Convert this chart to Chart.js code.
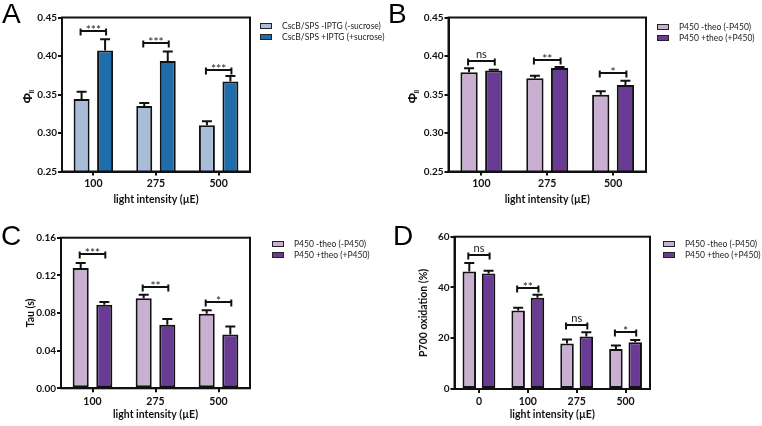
<!DOCTYPE html>
<html>
<head>
<meta charset="utf-8">
<script src="https://cdn.jsdelivr.net/npm/chart.js@4.4.1/dist/chart.umd.min.js"></script>
<style>
  body { margin: 0; background: #fff; }
  #wrap { position: relative; width: 762px; height: 426px; background: #fff; overflow: hidden; }
  canvas { position: absolute; }
  .letter { position: absolute; font: 28px "Liberation Sans", Arial, sans-serif; line-height: 28px; color: #000; }
  .legend { position: absolute; font: 8.5px Lato, "Liberation Sans", sans-serif; color: #222; }
  .legend .row { position: relative; height: 11px; line-height: 11px; white-space: nowrap; }
  .legend .sw { position: absolute; left: 0; top: 2px; width: 10px; height: 4px; border: 1.5px solid #222; }
  .legend .tx { position: absolute; top: 0; }
</style>
</head>
<body>
<div id="wrap">
  <canvas id="chartA" width="381" height="213" style="left:0;top:0"></canvas>
  <canvas id="chartB" width="381" height="213" style="left:381px;top:0"></canvas>
  <canvas id="chartC" width="381" height="213" style="left:0;top:213px"></canvas>
  <canvas id="chartD" width="381" height="213" style="left:381px;top:213px"></canvas>
  <div class="letter" style="left:2px;top:0">A</div>
  <div class="letter" style="left:388px;top:0">B</div>
  <div class="letter" style="left:1px;top:222px">C</div>
  <div class="letter" style="left:393px;top:222px">D</div>
  <div class="legend" id="legA" style="left:260px;top:21px"></div>
  <div class="legend" id="legB" style="left:657px;top:22px"></div>
  <div class="legend" id="legC" style="left:272px;top:239px"></div>
  <div class="legend" id="legD" style="left:663px;top:239px"></div>
</div>
<script>
// categories (light intensity, µE)
const lightLevels = ['100', '275', '500'];
const lightLevelsD = ['0', '100', '275', '500'];

// series names
const sucroseNames = ['CscB/SPS -IPTG (-sucrose)', 'CscB/SPS +IPTG (+sucrose)'];
const p450Names = ['P450 -theo (-P450)', 'P450 +theo (+P450)'];

// A: PhiII, sucrose
const phiNoSucrose = [0.344, 0.335, 0.310];
const phiNoSucroseErr = [0.0095, 0.004, 0.0052];
const phiSucrose = [0.407, 0.3935, 0.367];
const phiSucroseErr = [0.0147, 0.0122, 0.007];
const sigLevelA = [0.432, 0.4165, 0.382];
const sigTextA = ['***', '***', '***'];

// B: PhiII, P450
const phiNoP450 = [0.379, 0.371, 0.3496];
const phiNoP450Err = [0.005, 0.0033, 0.0047];
const phiP450 = [0.3813, 0.3843, 0.3622];
const phiP450Err = [0.0008, 0.0014, 0.0056];
const sigLevelB = [0.3935, 0.3948, 0.3774];
const sigTextB = ['ns', '**', '*'];

// C: Tau
const tauNoP450 = [0.1277, 0.0958, 0.0793];
const tauNoP450Err = [0.0053, 0.0035, 0.0035];
const tauP450 = [0.0888, 0.0674, 0.0572];
const tauP450Err = [0.0028, 0.0063, 0.0084];
const sigLevelC = [0.1425, 0.1077, 0.0912];
const sigTextC = ['***', '**', '*'];

// D: P700 oxidation
const p700NoP450 = [46.3, 30.9, 17.9, 15.8];
const p700NoP450Err = [3.3, 1.1, 1.6, 1.3];
const p700P450 = [45.5, 35.9, 20.7, 18.4];
const p700P450Err = [1.1, 1.2, 1.7, 0.9];
const sigLevelD = [52.9, 39.9, 25.3, 22.4];
const sigTextD = ['ns', '**', 'ns', '*'];

// y ticks
const yTicksPhi = [0.25, 0.30, 0.35, 0.40, 0.45];
const yTicksTau = [0.00, 0.04, 0.08, 0.12, 0.16];
const yTicksP700 = [0, 20, 40, 60];

const FONT = 'Lato, "Liberation Sans", sans-serif';
const INK = '#111';
const blueLight = '#a9bcd8', blueDark = '#1f6dab';
const lilac = '#c9afd1', purple = '#6a3b95';

// error bars on top of each bar
const errorBars = {
  id: 'errorBars',
  afterDatasetsDraw(chart, args, opts) {
    const ctx = chart.ctx, y = chart.scales.y;
    ctx.save();
    ctx.strokeStyle = INK;
    ctx.lineWidth = 2;
    chart.data.datasets.forEach((ds, i) => {
      chart.getDatasetMeta(i).data.forEach((bar, j) => {
        const top = y.getPixelForValue(ds.data[j] + opts.errors[i][j]);
        ctx.beginPath();
        ctx.moveTo(bar.x, bar.y);
        ctx.lineTo(bar.x, top);
        ctx.moveTo(bar.x - 5, top);
        ctx.lineTo(bar.x + 5, top);
        ctx.stroke();
      });
    });
    ctx.restore();
  }
};

// significance brackets
const sigBrackets = {
  id: 'sigBrackets',
  afterDatasetsDraw(chart, args, opts) {
    const ctx = chart.ctx, y = chart.scales.y;
    const m0 = chart.getDatasetMeta(0).data, m1 = chart.getDatasetMeta(1).data;
    ctx.save();
    ctx.strokeStyle = INK;
    ctx.fillStyle = '#222';
    ctx.lineWidth = 2;
    ctx.textAlign = 'center';
    ctx.textBaseline = 'alphabetic';
    opts.levels.forEach((lv, j) => {
      const py = Math.round(y.getPixelForValue(lv));
      const x1 = m0[j].x - 1, x2 = m1[j].x + 1;
      ctx.beginPath();
      ctx.moveTo(x1, py); ctx.lineTo(x2, py);
      ctx.moveTo(x1, py - 2.5); ctx.lineTo(x1, py + 4.5);
      ctx.moveTo(x2, py - 2.5); ctx.lineTo(x2, py + 4.5);
      ctx.stroke();
      const t = opts.labels[j];
      ctx.font = (t === 'ns' ? '11px ' : '12px ') + FONT;
      ctx.fillText(t, (x1 + x2) / 2, t === 'ns' ? py - 3 : py + 3);
    });
    ctx.restore();
  }
};

// box around plot
const frame = {
  id: 'frame',
  afterDraw(chart) {
    const {ctx, chartArea: a} = chart;
    ctx.save();
    ctx.strokeStyle = INK;
    ctx.lineWidth = 2;
    ctx.strokeRect(a.left, a.top, a.right - a.left, a.bottom - a.top);
    ctx.restore();
  }
};

// Phi_II axis title
const phiTitle = {
  id: 'phiTitle',
  afterDraw(chart, args, opts) {
    if (!opts.x) return;
    const {ctx, chartArea: a} = chart;
    ctx.save();
    ctx.translate(opts.x, (a.top + a.bottom) / 2 + 2);
    ctx.rotate(-Math.PI / 2);
    ctx.fillStyle = INK;
    ctx.textBaseline = 'middle';
    ctx.textAlign = 'left';
    ctx.font = 'bold 13px "Liberation Sans", sans-serif';
    ctx.fillText('Φ', -7, 0);
    ctx.font = 'bold 6.5px "Liberation Sans", sans-serif';
    ctx.fillText('II', 3, 3.5);
    ctx.restore();
  }
};

function makePanel(id, p) {
  const W = 381, H = 213;
  return new Chart(document.getElementById(id), {
    type: 'bar',
    data: {
      labels: p.labels,
      datasets: [
        { label: p.names[0], data: p.values[0], backgroundColor: p.colors[0] },
        { label: p.names[1], data: p.values[1], backgroundColor: p.colors[1] }
      ]
    },
    options: {
      responsive: false,
      animation: false,
      events: [],
      datasets: {
        bar: { borderColor: INK, borderWidth: 2, borderSkipped: false,
               categoryPercentage: p.catPct, barPercentage: p.barPct }
      },
      layout: { padding: { left: 0, top: p.area.top, right: W - p.area.right, bottom: 0 } },
      plugins: {
        legend: { display: false },
        tooltip: { enabled: false },
        errorBars: { errors: p.errors },
        sigBrackets: { levels: p.sigLevels, labels: p.sigLabels },
        phiTitle: { x: p.phiX }
      },
      scales: {
        x: {
          offset: true,
          grid: { drawOnChartArea: false, offset: false, tickLength: 4, color: INK, lineWidth: 2 },
          border: { color: INK, width: 2 },
          ticks: { color: INK, padding: p.xTickPad, font: { family: FONT, size: 10.5, weight: 'bold' } },
          title: { display: true, text: 'light intensity (µE)', color: INK,
                   font: { family: FONT, size: 10.5, weight: 'bold' }, padding: { top: 0, bottom: p.xTitlePad } },
          afterFit: s => { s.height = H - p.area.bottom; }
        },
        y: {
          min: p.yTicks[0],
          max: p.yTicks[p.yTicks.length - 1],
          afterBuildTicks: s => { s.ticks = p.yTicks.map(v => ({ value: v })); },
          grid: { drawOnChartArea: false, tickLength: 4, color: INK, lineWidth: 2 },
          border: { color: INK, width: 2 },
          ticks: { color: INK, padding: 1, font: { family: FONT, size: 10, weight: 'bold' },
                   callback: v => p.fmt(v) },
          title: { display: !!p.yTitle, text: p.yTitle || '', color: INK,
                   font: { family: FONT, size: 10.5, weight: 'bold' }, padding: { top: p.yTitlePad || 0, bottom: 0 } },
          afterFit: s => { s.width = p.area.left; }
        }
      }
    },
    plugins: [errorBars, sigBrackets, frame, phiTitle]
  });
}

function makeLegend(id, names, colors) {
  const el = document.getElementById(id);
  names.forEach((n, i) => {
    const row = document.createElement('div');
    row.className = 'row';
    row.innerHTML = '<span class="sw" style="background:' + colors[i] + '"></span><span class="tx" style="left:22px">' + n + '</span>';
    el.appendChild(row);
  });
}

makePanel('chartA', {
  labels: lightLevels, names: sucroseNames, colors: [blueLight, blueDark],
  values: [phiNoSucrose, phiSucrose], errors: [phiNoSucroseErr, phiSucroseErr],
  sigLevels: sigLevelA, sigLabels: sigTextA, yTicks: yTicksPhi, fmt: v => v.toFixed(2),
  area: { left: 62, right: 250, top: 17.5, bottom: 171.5 },
  catPct: 0.75, barPct: 0.68, xTickPad: 1.5, xTitlePad: 7, phiX: 28.5
});
makePanel('chartB', {
  labels: lightLevels, names: p450Names, colors: [lilac, purple],
  values: [phiNoP450, phiP450], errors: [phiNoP450Err, phiP450Err],
  sigLevels: sigLevelB, sigLabels: sigTextB, yTicks: yTicksPhi, fmt: v => v.toFixed(2),
  area: { left: 67.5, right: 265, top: 17.5, bottom: 171.5 },
  catPct: 0.75, barPct: 0.7, xTickPad: 1.5, xTitlePad: 7, phiX: 32.5
});
makePanel('chartC', {
  labels: lightLevels, names: p450Names, colors: [lilac, purple],
  values: [tauNoP450, tauP450], errors: [tauNoP450Err, tauP450Err],
  sigLevels: sigLevelC, sigLabels: sigTextC, yTicks: yTicksTau, fmt: v => v.toFixed(2),
  area: { left: 61, right: 250, top: 24.7, bottom: 175.3 },
  catPct: 0.75, barPct: 0.68, xTickPad: 3, xTitlePad: 5, yTitle: 'Tau (s)', yTitlePad: 24
});
makePanel('chartD', {
  labels: lightLevelsD, names: p450Names, colors: [lilac, purple],
  values: [p700NoP450, p700P450], errors: [p700NoP450Err, p700P450Err],
  sigLevels: sigLevelD, sigLabels: sigTextD, yTicks: yTicksP700, fmt: v => String(v),
  area: { left: 73.5, right: 269, top: 23.7, bottom: 176 },
  catPct: 0.79, barPct: 0.7, xTickPad: 2.5, xTitlePad: 5, yTitle: 'P700 oxidation (%)', yTitlePad: 36
});

makeLegend('legA', sucroseNames, [blueLight, blueDark]);
makeLegend('legB', p450Names, [lilac, purple]);
makeLegend('legC', p450Names, [lilac, purple]);
makeLegend('legD', p450Names, [lilac, purple]);
</script>
</body>
</html>
